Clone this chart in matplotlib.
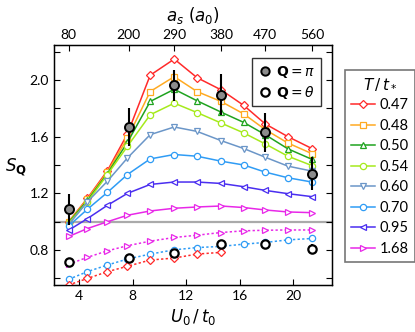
import matplotlib
matplotlib.use('Agg')
import matplotlib.pyplot as plt
from matplotlib.lines import Line2D

plt.rcParams['font.family'] = ['Lato', 'DejaVu Sans']
plt.rcParams['mathtext.fontset'] = 'dejavusans'

# U0/t0 sample positions
u0 = [3.2, 4.6, 6.1, 7.6, 9.3, 11.1, 12.8, 14.6, 16.3, 17.9, 19.6, 21.4]

# S_Q(pi) theory curves for each T/t*
temps = ['0.47', '0.48', '0.50', '0.54', '0.60', '0.70', '0.95', '1.68']
s047 = [1.00, 1.165, 1.36, 1.62, 2.033, 2.147, 2.016, 1.93, 1.82, 1.69, 1.60, 1.516]
s048 = [1.00, 1.16, 1.35, 1.59, 1.918, 2.023, 1.918, 1.848, 1.76, 1.65, 1.555, 1.48]
s050 = [0.995, 1.15, 1.34, 1.56, 1.848, 1.934, 1.853, 1.773, 1.70, 1.614, 1.514, 1.44]
s054 = [0.99, 1.14, 1.333, 1.532, 1.754, 1.836, 1.77, 1.696, 1.626, 1.549, 1.462, 1.396]
s060 = [0.98, 1.14, 1.286, 1.45, 1.614, 1.668, 1.637, 1.572, 1.516, 1.455, 1.392, 1.357]
s070 = [0.97, 1.088, 1.207, 1.333, 1.443, 1.474, 1.462, 1.427, 1.40, 1.35, 1.31, 1.28]
s095 = [0.94, 1.022, 1.116, 1.20, 1.263, 1.28, 1.28, 1.27, 1.247, 1.221, 1.198, 1.177]
s168 = [0.896, 0.952, 1.00, 1.046, 1.076, 1.095, 1.104, 1.111, 1.10, 1.083, 1.069, 1.064]

# S_Q(theta) theory curves
th168 = [0.70, 0.749, 0.795, 0.831, 0.863, 0.889, 0.905, 0.924, 0.936, 0.94, 0.942, 0.942]
th070 = [0.594, 0.648, 0.695, 0.737, 0.772, 0.802, 0.818, 0.826, 0.842, 0.854, 0.872, 0.882]
th047 = [0.554, 0.60, 0.648, 0.686, 0.73, 0.744, 0.772, 0.784]

# experiment
u0_exp = [3.2, 7.7, 11.1, 14.6, 17.9, 21.4]
a_s = [80, 200, 290, 380, 470, 560]
sq_pi = [1.088, 1.67, 1.963, 1.895, 1.63, 1.34]
sq_pi_err = [0.11, 0.135, 0.11, 0.145, 0.14, 0.115]
sq_th = [0.718, 0.744, 0.779, 0.842, 0.842, 0.81]
sq_th_err = [0.025, 0.025, 0.025, 0.03, 0.03, 0.03]

colors = ['#ff2a2a', '#ffaa22', '#1fa31f', '#a6ea1c', '#6b96c8', '#2f9cf5', '#4a2ef0', '#e828e8']
markers = ['D', 's', '^', 'o', 'v', 'o', '<', '>']
sizes = [4, 4.5, 5, 4.5, 5, 4.5, 5, 5]
curves = [s047, s048, s050, s054, s060, s070, s095, s168]

fig = plt.figure(figsize=(4.15, 3.32), dpi=100)
ax = fig.add_axes([0.130, 0.142, 0.670, 0.722])

ax.axhline(1.0, color='#aaaaaa', lw=1.6, zorder=1)

handles = []
for T, c, m, ms, ys in zip(temps, colors, markers, sizes, curves):
    h, = ax.plot(u0, ys, color=c, lw=1.1, marker=m, ms=ms, mfc='white',
                 mec=c, mew=0.9, label=T, zorder=3)
    handles.append(h)

dotted = [(th168, colors[7], '>', 5), (th070, colors[5], 'o', 4.5), (th047, colors[0], 'D', 4)]
for ys, c, m, ms in dotted:
    ax.plot(u0[:len(ys)], ys, color=c, lw=1.1, ls=(0, (1.5, 1.5)), marker=m, ms=ms,
            mfc='white', mec=c, mew=0.9, zorder=3)

ax.errorbar(u0_exp, sq_pi, yerr=sq_pi_err, fmt='o', ms=6.5, mfc='#8c8c8c', mec='black',
            mew=1.4, ecolor='black', elinewidth=1.5, zorder=5)
ax.errorbar(u0_exp, sq_th, yerr=sq_th_err, fmt='o', ms=6, mfc='white', mec='black',
            mew=1.6, ecolor='black', elinewidth=1.5, zorder=5)

ax.set_xlim(2.1, 22.9)
ax.set_ylim(0.555, 2.245)
ax.set_xticks([4, 8, 12, 16, 20])
ax.set_yticks([0.6, 0.8, 1.0, 1.2, 1.4, 1.6, 1.8, 2.0, 2.2])
ax.set_yticklabels(['', '0.8', '', '1.2', '', '1.6', '', '2.0', ''])
ax.tick_params(direction='in', right=True, labelsize=10, length=4, width=0.8)
ax.set_xlabel('$U_0\\,/\\,t_0$', fontsize=12, labelpad=4)
ax.set_ylabel('$S_\\mathbf{Q}$', fontsize=12, rotation=0, labelpad=14)
ax.yaxis.set_label_coords(-0.135, 0.45)
for s in ax.spines.values():
    s.set_linewidth(1.0)

top = ax.twiny()
top.set_xlim(ax.get_xlim())
top.set_xticks(u0_exp)
top.set_xticklabels([str(a) for a in a_s])
top.tick_params(direction='in', labelsize=10, length=4, width=0.8, pad=3)
top.set_xlabel('$a_s\\ (a_0)$', fontsize=12, labelpad=6)

exp_handles = [
    Line2D([], [], ls='none', marker='o', ms=6, mfc='#8c8c8c', mec='black', mew=1.4),
    Line2D([], [], ls='none', marker='o', ms=6, mfc='white', mec='black', mew=1.6),
]
leg1 = ax.legend(exp_handles, ['$\\mathbf{Q} = \\pi$', '$\\mathbf{Q} = \\theta$'],
                 loc='upper right', bbox_to_anchor=(0.985, 0.975), fontsize=10,
                 frameon=True, fancybox=False, edgecolor='black', handletextpad=0.3,
                 borderpad=0.4, labelspacing=0.3, handlelength=1.0)
leg1.get_frame().set_linewidth(1.0)

leg2 = fig.legend(handles, temps, loc='upper left', bbox_to_anchor=(0.831, 0.788),
                  title='$T\\,/\\,t_*$', title_fontsize=11, fontsize=10.5,
                  frameon=True, fancybox=False, edgecolor='#555555',
                  handlelength=1.7, handletextpad=0.3, labelspacing=0.45,
                  borderpad=0.4, borderaxespad=0)
leg2.get_frame().set_linewidth(1.2)

fig.savefig('out.png', dpi=100)
